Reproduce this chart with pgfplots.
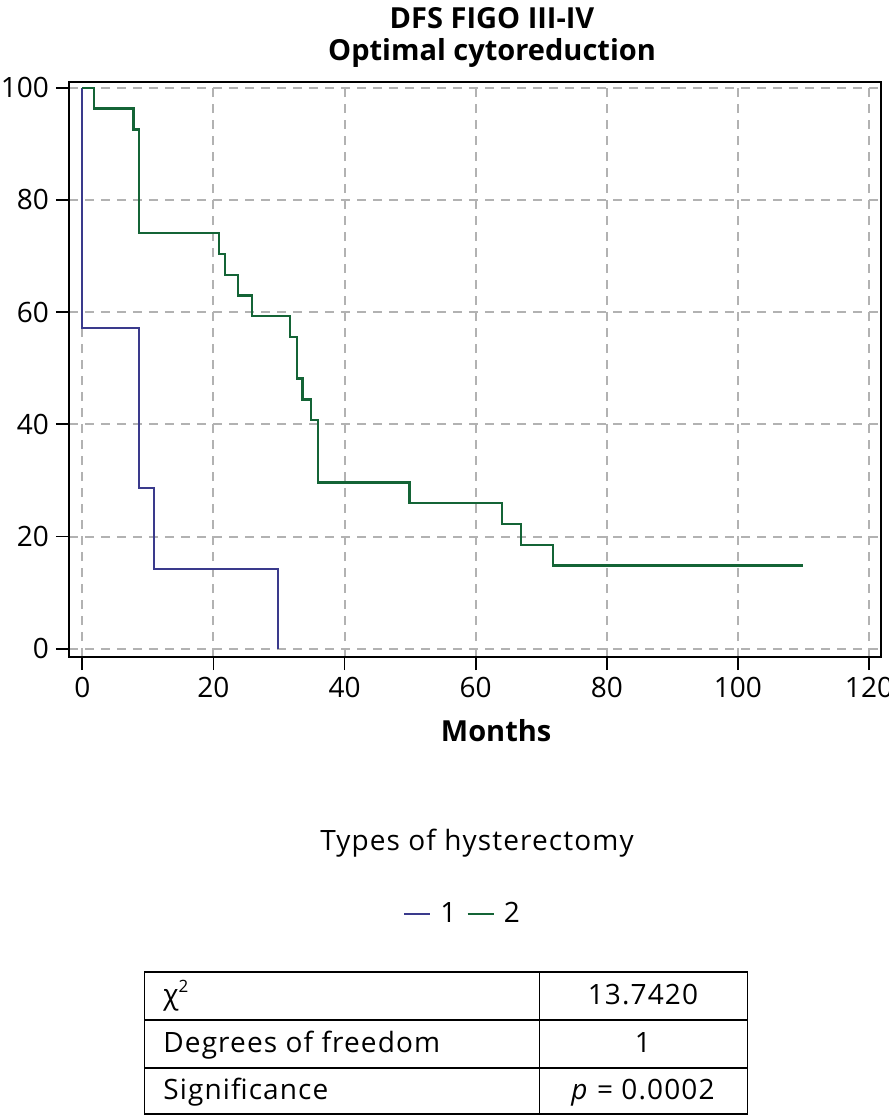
\documentclass[border=0pt]{standalone}
\usepackage{fontspec}
\setmainfont{Open Sans}[LetterSpace=4]
\newfontfamily\headfont{Open Sans}
\usepackage{pgfplots}
\pgfplotsset{compat=1.18}
\definecolor{kmblue}{RGB}{58,58,140}
\definecolor{kmgreen}{RGB}{20,100,54}
\definecolor{gridgray}{RGB}{178,178,178}
\newcommand{\txt}{\fontsize{14}{14}\selectfont}
\newcommand{\tck}{\headfont\fontsize{14}{14}\selectfont}
\newcommand{\hd}{\headfont\bfseries\fontsize{14.5}{14.5}\selectfont}

\begin{document}
\begin{tikzpicture}
\useasboundingbox (0,0) rectangle (444.5pt,-558pt);
\begin{axis}[
    at={(34.5pt,-41pt)}, anchor=north west,
    scale only axis, width=406pt, height=287.6pt,
    xmin=-2.03, xmax=121.83, ymin=-1.52, ymax=101.03,
    xtick={0,20,...,120}, ytick={0,20,...,100},
    tick pos=left,
    tick align=outside, major tick length=6.5pt,
    tick style={black, line width=0.9pt},
    axis line style={line width=1pt},
    grid=major,
    major grid style={gridgray, line width=1pt, dash pattern=on 4.5pt off 3.5pt},
    /pgf/number format/assume math mode=true,
    tick label style={font=\tck},
    xlabel={Months},
    xlabel style={font=\hd, at={(axis description cs:0.526,-0.1467)}, anchor=base},
    every axis title shift=0pt,
    title={DFS FIGO III-IV\\[1.5pt]Optimal cytoreduction},
    title style={font=\hd, align=center, at={(axis description cs:0.521,1.025)}, anchor=south, inner sep=0pt},
    legend columns=-1,
    legend style={draw=none, fill=none, at={(axis description cs:0.486,-0.446)}, anchor=center, font=\txt,
      /tikz/every odd column/.append style={column sep=2.5pt},
      /tikz/every even column/.append style={column sep=3pt}},
    legend image code/.code={\draw[#1] (0pt,0pt) -- (13pt,0pt);},
]
% group 1
\addplot[kmblue, line width=1pt, const plot] coordinates {
  (0,100) (0,57.14) (8.6,28.57) (10.9,14.29) (29.9,0)};
% group 2
\addplot[kmgreen, line width=1.15pt, const plot] coordinates {
  (0,100) (1.8,96.30) (7.8,92.59) (8.6,74.07) (20.8,70.37) (21.8,66.67)
  (23.7,62.96) (25.9,59.26) (31.7,55.56) (32.7,48.15) (33.6,44.44)
  (34.9,40.74) (35.9,29.63) (49.9,25.93) (64.0,22.22) (66.9,18.52)
  (71.8,14.81) (109.9,14.81)};
\legend{1,2}
\end{axis}

\node[anchor=base, font=\txt] at (238.5pt,-425pt) {Types of hysterectomy};

% statistics table
\begin{scope}[line width=0.75pt]
\draw (72.2pt,-485.9pt) rectangle (373.7pt,-557pt);
\draw (72.2pt,-510pt) -- (373.7pt,-510pt);
\draw (72.2pt,-533.9pt) -- (373.7pt,-533.9pt);
\draw (269.7pt,-485.9pt) -- (269.7pt,-557pt);
\end{scope}
\begin{scope}[every node/.style={font=\txt, inner sep=0pt}]
\node[anchor=base west] at (81.5pt,-502pt) {χ\raisebox{0.75ex}{\fontsize{8.5}{8.5}\selectfont 2}};
\node[anchor=base west] at (81.5pt,-526pt) {Degrees of freedom};
\node[anchor=base west] at (81.5pt,-549.5pt) {Significance};
\node[anchor=base] at (321.5pt,-502pt) {13.7420};
\node[anchor=base] at (321.5pt,-526pt) {1};
\node[anchor=base] at (321.5pt,-549.5pt) {\textit{p} = 0.0002};
\end{scope}
\end{tikzpicture}
\end{document}
